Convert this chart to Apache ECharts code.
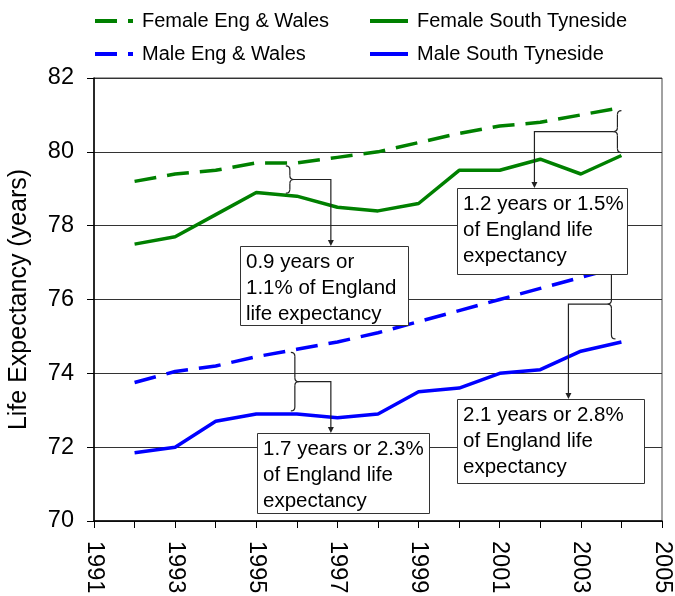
<!DOCTYPE html>
<html><head><meta charset="utf-8">
<script src="https://cdn.jsdelivr.net/npm/echarts@6/dist/echarts.min.js"></script>
<style>html,body{margin:0;padding:0;background:#fff}#c{width:675px;height:596px}</style>
</head><body><div id="c"></div>
<script>
const years = [1992,1993,1994,1995,1996,1997,1998,1999,2000,2001,2002,2003,2004];
const femaleEW = [79.2,79.4,79.5,79.7,79.7,79.85,80.0,80.25,80.5,80.7,80.8,81.0,81.2];
const femaleST = [77.5,77.7,78.3,78.9,78.8,78.5,78.4,78.6,79.5,79.5,79.8,79.4,79.9];
const maleEW = [73.75,74.05,74.2,74.45,74.65,74.85,75.1,75.4,75.7,76.0,76.3,76.6,76.9];
const maleST = [71.85,72.0,72.7,72.9,72.9,72.8,72.9,73.5,73.6,74.0,74.1,74.6,74.85];
const seriesNames = ['Female Eng & Wales','Female South Tyneside','Male Eng & Wales','Male South Tyneside'];
const yTicks = [70,72,74,76,78,80,82];
const xTicks = [1991,1993,1995,1997,1999,2001,2003,2005];
const noteTexts = [
  '0.9 years or\n1.1% of England\nlife expectancy',
  '1.2 years or 1.5%\nof England life\nexpectancy',
  '1.7 years or 2.3%\nof England life\nexpectancy',
  '2.1 years or 2.8%\nof England life\nexpectancy'
];
// gap annotations: year, upper series, lower series
const gapYears = [1996, 2004, 1996, 2004];
const gapUpper = [femaleEW, femaleEW, maleEW, maleEW];
const gapLower = [femaleST, femaleST, maleST, maleST];

const FONT = "'Liberation Sans', Arial, sans-serif";
const GREEN = '#008000', BLUE = '#0000FF';
const DASH = [22, 11];

function pairs(v){ return years.map((y,i)=>[y, v[i]]); }
function mkSeries(name, data, color, dashed){
  return {name, type:'line', data:pairs(data), symbol:'none', showSymbol:false,
    lineStyle:{color, width:3.5, type: dashed ? DASH : 'solid', cap:'butt'},
    itemStyle:{color}, z:2, animation:false};
}
function mkLegend(name, left, top){
  return {data:[name], left, top, itemWidth:38, itemHeight:14, padding:0,
    itemStyle:{opacity:0}, lineStyle:{width:4},
    textStyle:{fontFamily:FONT, fontSize:20, color:'#000', padding:[0,0,0,4]}, selectedMode:false};
}

const chart = echarts.init(document.getElementById('c'), null, {renderer:'canvas'});
chart.setOption({
  animation:false,
  backgroundColor:'#fff',
  legend:[mkLegend(seriesNames[0],93,11), mkLegend(seriesNames[1],368,11), mkLegend(seriesNames[2],93,44), mkLegend(seriesNames[3],368,44)],
  grid:{left:94, right:13, top:78, bottom:75, show:true, borderColor:'#444', borderWidth:1, backgroundColor:'transparent',
    outerBoundsMode:'none', containLabel:false},
  xAxis:{type:'value', min:xTicks[0], max:xTicks[xTicks.length-1], interval:1,
    axisLine:{lineStyle:{color:'#000', width:1.5}},
    axisTick:{show:true, length:7, lineStyle:{color:'#000'}},
    splitLine:{show:false},
    axisLabel:{rotate:-90, margin:20, fontFamily:FONT, fontSize:23.5, color:'#000',
      formatter:v => xTicks.indexOf(v) >= 0 ? String(v) : ''}},
  yAxis:{type:'value', min:yTicks[0], max:yTicks[yTicks.length-1], interval:2,
    name:'Life Expectancy (years)', nameLocation:'middle', nameRotate:90, nameGap:62,
    nameTextStyle:{fontFamily:FONT, fontSize:25, color:'#000'},
    axisLine:{show:true, lineStyle:{color:'#000', width:1.5}},
    axisTick:{show:true, length:7, lineStyle:{color:'#000'}},
    splitLine:{show:true, lineStyle:{color:'#333', width:1}},
    axisLabel:{margin:20, fontFamily:FONT, fontSize:23.5, color:'#000'}},
  series:[
    mkSeries(seriesNames[0], femaleEW, GREEN, true),
    mkSeries(seriesNames[1], femaleST, GREEN, false),
    mkSeries(seriesNames[2], maleEW, BLUE, true),
    mkSeries(seriesNames[3], maleST, BLUE, false)
  ]
});

// annotation layout (pixels)
const boxes = [
  {x:240, y:246, w:168, h:79},
  {x:457, y:188, w:170, h:86},
  {x:257, y:433, w:172, h:80},
  {x:457, y:399, w:187, h:84}
];
const braceDX = [-7, -4, -2, -10];   // brace x offset from the year position
const braceDir = [1, -1, 1, -1];     // cusp direction
const arrowDX = [41, -83, 36, -43];  // arrow x relative to brace x

const STROKE = {fill:null, stroke:'#222', lineWidth:1.2};
function braceEls(x, y1, y2, d){
  const ym = (y1+y2)/2, w = 4, r = 4;
  const bz = (x1,y1_,cx,cy,x2,y2_) => ({type:'bezierCurve', z:50, shape:{x1, y1:y1_, cpx1:cx, cpy1:cy, x2, y2:y2_}, style:STROKE});
  const ln = (x1,y1_,x2,y2_) => ({type:'line', z:50, shape:{x1, y1:y1_, x2, y2:y2_}, style:STROKE});
  return [
    bz(x-d*w, y1, x, y1, x, y1+r),
    ln(x, y1+r, x, ym-r),
    bz(x, ym-r, x, ym, x+d*w, ym),
    bz(x+d*w, ym, x, ym, x, ym+r),
    ln(x, ym+r, x, y2-r),
    bz(x, y2-r, x, y2, x-d*w, y2)
  ];
}

const g = [];
gapYears.forEach((yr, k) => {
  const idx = years.indexOf(yr);
  const pTop = chart.convertToPixel({gridIndex:0}, [yr, gapUpper[k][idx]]);
  const pBot = chart.convertToPixel({gridIndex:0}, [yr, gapLower[k][idx]]);
  const bx = pTop[0] + braceDX[k];
  const y1 = pTop[1] + 3, y2 = pBot[1] - 3;
  const ym = (y1+y2)/2;
  const d = braceDir[k];
  const ax = bx + arrowDX[k];
  const b = boxes[k];
  braceEls(bx, y1, y2, d).forEach(e => g.push(e));
  g.push({type:'polyline', z:50, shape:{points:[[bx+d*4, ym],[ax, ym],[ax, b.y-5]]}, style:STROKE});
  g.push({type:'polygon', z:50, shape:{points:[[ax-3, b.y-6],[ax+3, b.y-6],[ax, b.y]]}, style:{fill:'#222'}});
});
boxes.forEach((b, k) => {
  g.push({type:'rect', z:60, shape:{x:b.x+0.5, y:b.y+0.5, width:b.w, height:b.h}, style:{fill:'#fff', stroke:'#333', lineWidth:1}});
  g.push({type:'text', z:61, x:b.x+6, y:b.y+3, style:{text:noteTexts[k], font:'20.5px '+FONT, fill:'#000', lineHeight:26, textVerticalAlign:'top'}});
});
chart.setOption({graphic:g});
</script></body></html>
